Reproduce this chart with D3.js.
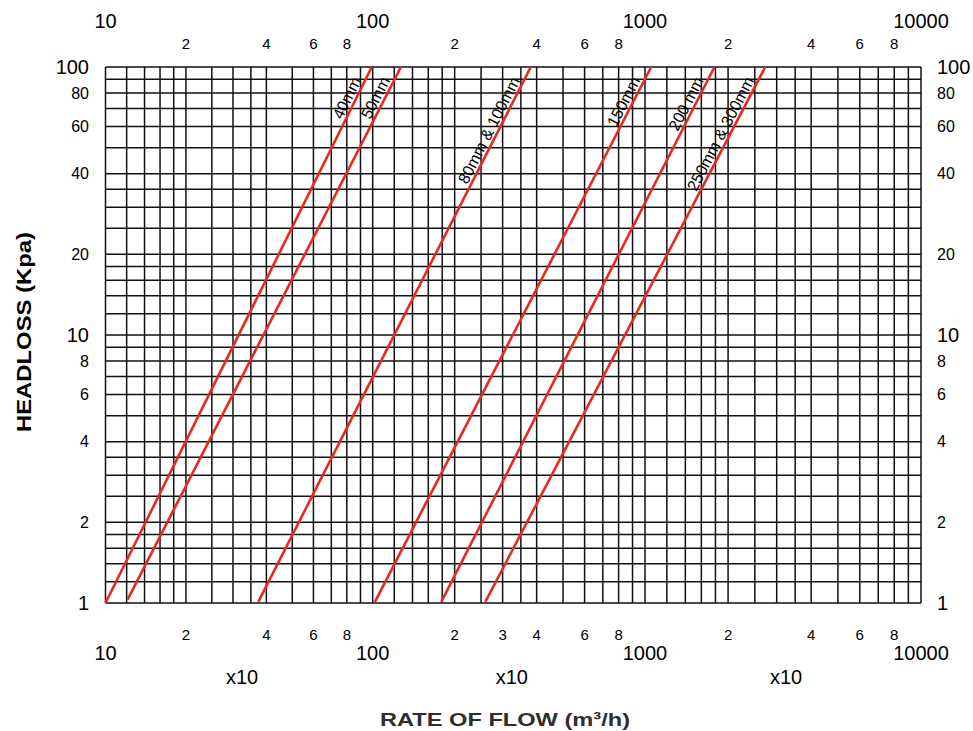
<!DOCTYPE html>
<html>
<head>
<meta charset="utf-8">
<script src="https://cdn.jsdelivr.net/npm/d3@7"></script>
<style>
  html, body { margin: 0; padding: 0; background: #fff; }
  svg text { font-family: "Liberation Sans", Arial, Helvetica, sans-serif; fill: #000; }
</style>
</head>
<body>
<div id="chart"></div>
<script>
// ---------------- data ----------------
const pipeSizes = ['40mm', '50mm', '80mm & 100mm', '150mm', '200 mm', '250mm & 300mm'];
// low end of each line (flow m3/h, headloss kPa)
const flowLow = [10, 12.1, 37.3, 101.9, 178.6, 259.2];
const headLow = [1, 1.03, 1.01, 1.01, 1.01, 1.01];
// high end of each line
const flowHigh = [99.2, 127, 380.7, 1053, 1785, 2727];
const headHigh = [100, 100, 100, 100, 100, 100];

const decades = [10, 100, 1000];
const gridSteps = [1, 1.2, 1.4, 1.6, 1.8, 2, 2.5, 3, 3.5, 4, 5, 6, 7, 8, 9];
const flowMajor = [10, 100, 1000, 10000];
const flowMinorTop = [2, 4, 6, 8];
const flowMinorBottom = [[2, 4, 6, 8], [2, 3, 4, 6, 8], [2, 4, 6, 8]];
const headMajor = [1, 10, 100];
const headMinor = [2, 4, 6, 8, 20, 40, 60, 80];

// ---------------- layout ----------------
const width = 973;
const height = 731;
const plotLeft = 105.5;
const plotRight = 921;
const plotTop = 67;
const plotBottom = 603;

const svg = d3.select('#chart').append('svg')
    .attr('width', width)
    .attr('height', height);

// log paper: decades are not quite equal on the original sheet
const x = d3.scaleLog()
    .domain([10, 100, 1000, 10000])
    .range([plotLeft, 372.7, 645, plotRight]);
const y = d3.scaleLog()
    .domain([1, 100])
    .range([plotBottom, plotTop]);

// grid values
const xGrid = [];
decades.forEach((d) => gridSteps.forEach((s) => xGrid.push(d * s)));
xGrid.push(10000);
const yGrid = [];
[1, 10].forEach((d) => gridSteps.forEach((s) => yGrid.push(d * s)));
yGrid.push(100);

const grid = svg.append('g')
    .attr('stroke', '#111')
    .attr('stroke-width', 1.5);

grid.selectAll('.vline')
    .data(xGrid)
    .join('line')
    .attr('class', 'vline')
    .attr('x1', (d) => x(d))
    .attr('x2', (d) => x(d))
    .attr('y1', plotTop)
    .attr('y2', plotBottom);

grid.selectAll('.hline')
    .data(yGrid)
    .join('line')
    .attr('class', 'hline')
    .attr('x1', plotLeft)
    .attr('x2', plotRight)
    .attr('y1', (d) => y(d))
    .attr('y2', (d) => y(d));

// ---------------- pipe lines ----------------
const lines = pipeSizes.map((name, i) => ({
    name,
    pts: [[flowLow[i], headLow[i]], [flowHigh[i], headHigh[i]]]
}));

const linePath = d3.line()
    .x((d) => x(d[0]))
    .y((d) => y(d[1]));

svg.append('g')
    .selectAll('path')
    .data(lines)
    .join('path')
    .attr('d', (d) => linePath(d.pts))
    .attr('fill', 'none')
    .attr('stroke', '#e62a1e')
    .attr('stroke-width', 2.6)
    .attr('stroke-linecap', 'butt');

// labels along the lines, ending near the top
const labelHead = 88;
svg.append('g')
    .selectAll('text')
    .data(lines)
    .join('text')
    .attr('transform', (d) => {
        const [p0, p1] = d.pts;
        const ang = Math.atan2(y(p1[1]) - y(p0[1]), x(p1[0]) - x(p0[0])) * 180 / Math.PI;
        // flow at labelHead along the straight log-log line
        const t = (Math.log(labelHead) - Math.log(p0[1])) / (Math.log(p1[1]) - Math.log(p0[1]));
        const q = Math.exp(Math.log(p0[0]) + t * (Math.log(p1[0]) - Math.log(p0[0])));
        return `translate(${x(q)},${y(labelHead)}) rotate(${ang})`;
    })
    .attr('dy', -3)
    .attr('text-anchor', 'end')
    .attr('font-size', 16)
    .text((d) => d.name);

// ---------------- axis labels ----------------
const labels = svg.append('g');

// top and bottom major flow labels
labels.selectAll('.xTopMajor')
    .data(flowMajor)
    .join('text')
    .attr('class', 'xTopMajor')
    .attr('x', (d) => x(d))
    .attr('y', 28)
    .attr('text-anchor', 'middle')
    .attr('font-size', 20)
    .text((d) => d);

labels.selectAll('.xBotMajor')
    .data(flowMajor)
    .join('text')
    .attr('class', 'xBotMajor')
    .attr('x', (d) => x(d))
    .attr('y', 660)
    .attr('text-anchor', 'middle')
    .attr('font-size', 20)
    .text((d) => d);

// minor flow labels
const topMinor = [];
decades.forEach((d) => flowMinorTop.forEach((m) => topMinor.push({ v: d * m, m })));
labels.selectAll('.xTopMinor')
    .data(topMinor)
    .join('text')
    .attr('class', 'xTopMinor')
    .attr('x', (d) => x(d.v))
    .attr('y', 49)
    .attr('text-anchor', 'middle')
    .attr('font-size', 15)
    .text((d) => d.m);

const botMinor = [];
decades.forEach((d, i) => flowMinorBottom[i].forEach((m) => botMinor.push({ v: d * m, m })));
labels.selectAll('.xBotMinor')
    .data(botMinor)
    .join('text')
    .attr('class', 'xBotMinor')
    .attr('x', (d) => x(d.v))
    .attr('y', 640)
    .attr('text-anchor', 'middle')
    .attr('font-size', 15)
    .text((d) => d.m);

// x10 multipliers under each decade
labels.selectAll('.mult')
    .data(decades)
    .join('text')
    .attr('class', 'mult')
    .attr('x', (d) => x(d * Math.sqrt(10)) + 3)
    .attr('y', 684)
    .attr('text-anchor', 'middle')
    .attr('font-size', 20)
    .text('x10');

// headloss labels, both sides
const headAll = headMajor.map((v) => ({ v, big: true }))
    .concat(headMinor.map((v) => ({ v, big: false })));

labels.selectAll('.yLeft')
    .data(headAll)
    .join('text')
    .attr('class', 'yLeft')
    .attr('x', 89)
    .attr('y', (d) => y(d.v))
    .attr('dy', '0.36em')
    .attr('text-anchor', 'end')
    .attr('font-size', (d) => (d.big ? 20 : 16))
    .text((d) => d.v);

labels.selectAll('.yRight')
    .data(headAll)
    .join('text')
    .attr('class', 'yRight')
    .attr('x', 937)
    .attr('y', (d) => y(d.v))
    .attr('dy', '0.36em')
    .attr('text-anchor', 'start')
    .attr('font-size', (d) => (d.big ? 20 : 16))
    .text((d) => d.v);

// titles
svg.append('text')
    .attr('transform', 'translate(31,332) rotate(-90)')
    .attr('text-anchor', 'middle')
    .attr('font-size', 21)
    .attr('font-weight', 'bold')
    .attr('textLength', 200)
    .attr('lengthAdjust', 'spacingAndGlyphs')
    .text('HEADLOSS (Kpa)');

svg.append('text')
    .attr('x', 505)
    .attr('y', 726)
    .attr('text-anchor', 'middle')
    .attr('font-size', 19)
    .attr('font-weight', 'bold')
    .attr('textLength', 250)
    .attr('lengthAdjust', 'spacingAndGlyphs')
    .style('fill', '#2e2e2e')
    .text('RATE OF FLOW (m³/h)');
</script>
</body>
</html>
